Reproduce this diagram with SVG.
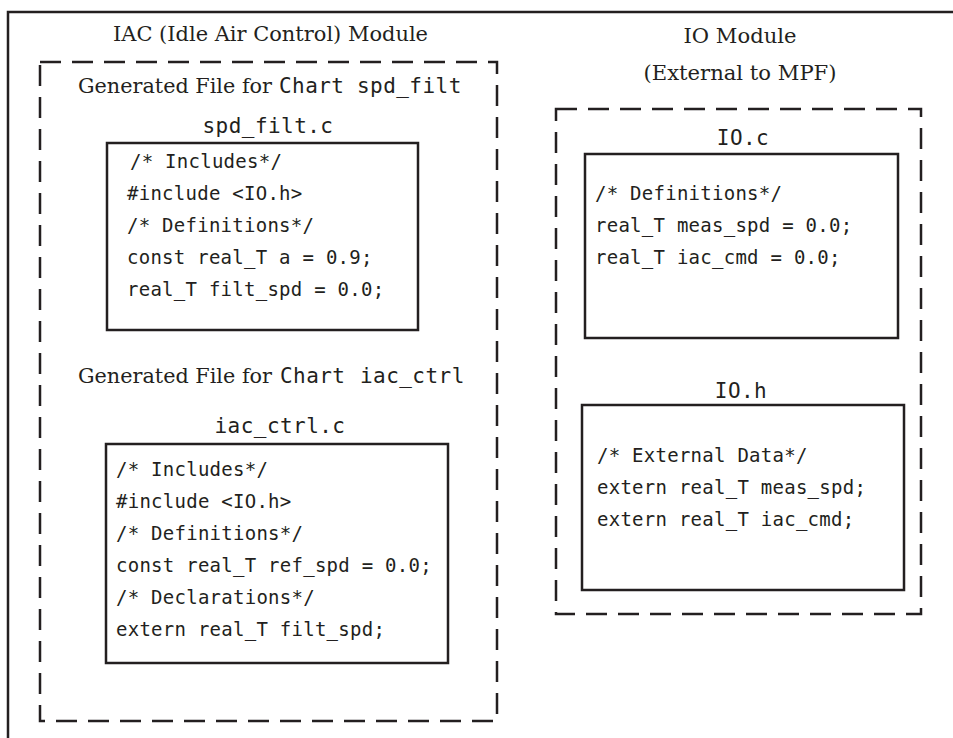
<svg xmlns="http://www.w3.org/2000/svg" width="953" height="738" viewBox="0 0 953 738">
<style>
.frame{fill:none;stroke:#231f20;stroke-width:2.5}
.dash{fill:none;stroke:#231f20;stroke-width:2.5;stroke-dasharray:21 11}
.box{fill:#fff;stroke:#231f20;stroke-width:2.5}
.serif{font-family:"DejaVu Serif","Liberation Serif",serif;font-size:21px;fill:#231f20}
.title{font-family:"DejaVu Sans Mono","Liberation Mono",monospace;font-size:21px;letter-spacing:0.45px;fill:#231f20}
.code{font-family:"DejaVu Sans Mono","Liberation Mono",monospace;font-size:19px;letter-spacing:0.26px;fill:#231f20}
</style>
<rect width="953" height="738" fill="#fff"/>
<path class="frame" d="M8,738 V12 H953"/>

<g id="iac_module">
<text class="serif" x="113" y="41" textLength="315" lengthAdjust="spacingAndGlyphs">IAC (Idle Air Control) Module</text>
<path class="dash" d="M40,62 H497 V721 H40 Z"/>
</g>

<g id="spd_filt_c">
<text class="serif" x="78" y="93" textLength="194" lengthAdjust="spacingAndGlyphs">Generated File for</text>
<text class="title" x="279" y="93">Chart</text>
<text class="title" x="357" y="93">spd_filt</text>
<text class="title" x="268" y="133" text-anchor="middle">spd_filt.c</text>
<rect class="box" x="107" y="143" width="311" height="187"/>
<text class="code" x="130" y="168">/* Includes*/</text>
<text class="code" x="127" y="200">#include &lt;IO.h&gt;</text>
<text class="code" x="127" y="232">/* Definitions*/</text>
<text class="code" x="127" y="264">const real_T a = 0.9;</text>
<text class="code" x="127" y="296">real_T filt_spd = 0.0;</text>
</g>

<g id="iac_ctrl_c">
<text class="serif" x="78" y="383" textLength="194" lengthAdjust="spacingAndGlyphs">Generated File for</text>
<text class="title" x="280" y="383">Chart</text>
<text class="title" x="360" y="383">iac_ctrl</text>
<text class="title" x="280" y="433" text-anchor="middle">iac_ctrl.c</text>
<rect class="box" x="106" y="444" width="342" height="219"/>
<text class="code" x="116" y="476">/* Includes*/</text>
<text class="code" x="116" y="508">#include &lt;IO.h&gt;</text>
<text class="code" x="116" y="540">/* Definitions*/</text>
<text class="code" x="116" y="572">const real_T ref_spd = 0.0;</text>
<text class="code" x="116" y="604">/* Declarations*/</text>
<text class="code" x="116" y="636">extern real_T filt_spd;</text>
</g>

<g id="io_module">
<text class="serif" x="740" y="43" text-anchor="middle" textLength="113" lengthAdjust="spacingAndGlyphs">IO Module</text>
<text class="serif" x="740" y="80" text-anchor="middle" textLength="193" lengthAdjust="spacingAndGlyphs">(External to MPF)</text>
<path class="dash" d="M556,109 H921 V614 H556 Z"/>
</g>

<g id="io_c">
<text class="title" x="743" y="145" text-anchor="middle">IO.c</text>
<rect class="box" x="585" y="154" width="313" height="184"/>
<text class="code" x="595" y="200">/* Definitions*/</text>
<text class="code" x="595" y="232">real_T meas_spd = 0.0;</text>
<text class="code" x="595" y="264">real_T iac_cmd = 0.0;</text>
</g>

<g id="io_h">
<text class="title" x="741" y="398" text-anchor="middle">IO.h</text>
<rect class="box" x="582" y="405" width="322" height="185"/>
<text class="code" x="597" y="462">/* External Data*/</text>
<text class="code" x="597" y="494">extern real_T meas_spd;</text>
<text class="code" x="597" y="526">extern real_T iac_cmd;</text>
</g>

<g id="connectors"></g>
</svg>
